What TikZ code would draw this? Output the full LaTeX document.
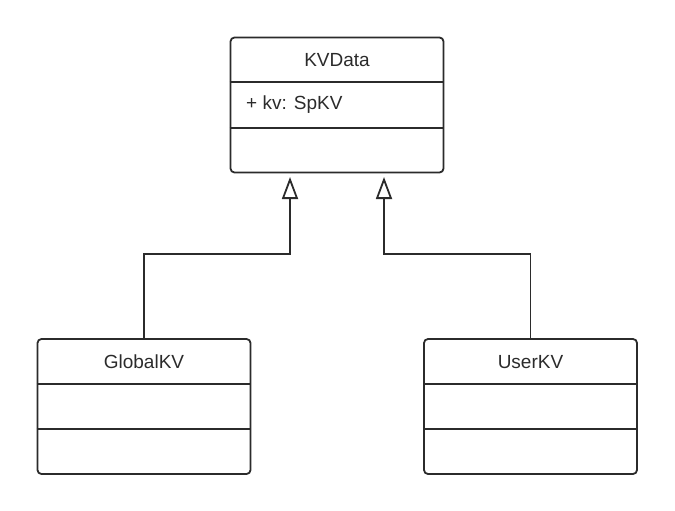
\documentclass[tikz,border=0pt]{standalone}
\usepackage{fontspec}
\setmainfont{Liberation Sans}
\usetikzlibrary{arrows.meta}
\definecolor{ink}{HTML}{2B2B2B}
\tikzstyle{cls} = [draw=ink, line width=1.8pt, rounded corners=4pt, rectangle,
    minimum width=213pt, minimum height=135pt, inner sep=0pt]
\tikzstyle{title} = [text=ink, font=\fontsize{19}{22}\selectfont, inner sep=0pt]
\tikzstyle{attr} = [text=ink, font=\fontsize{19}{22}\selectfont, inner sep=0pt, anchor=west]
\tikzstyle{sep} = [draw=ink, line width=1.8pt]
\tikzstyle{inherit} = [draw=ink, line width=1.8pt, -{Triangle[open, length=22pt, width=16pt, line width=1.8pt]}]

\begin{document}
\begin{tikzpicture}[x=1pt, y=-1pt]
\useasboundingbox (0,0) rectangle (675,511);

\node[cls, name=kvdata] at (337,105) {};
\node[cls, name=globalkv] at (144,406.5) {};
\node[cls, name=userkv] at (530.5,406.5) {};

% compartments
\draw[sep] (kvdata.west |- 0,82) -- (kvdata.east |- 0,82);
\draw[sep] (kvdata.west |- 0,128) -- (kvdata.east |- 0,128);
\draw[sep] (globalkv.west |- 0,384) -- (globalkv.east |- 0,384);
\draw[sep] (globalkv.west |- 0,429) -- (globalkv.east |- 0,429);
\draw[sep] (userkv.west |- 0,384) -- (userkv.east |- 0,384);
\draw[sep] (userkv.west |- 0,429) -- (userkv.east |- 0,429);

\node[title, name=kvname] at (337,60) {KVData};
\node[attr, name=kvattr] at (246,105) {+ kv: SpKV};
\node[title, name=globalname] at (144,362) {GlobalKV};
\node[title, name=username] at (530.5,362) {UserKV};

\coordinate (tipL) at (290,177);
\coordinate (tipR) at (384,177);

\draw[inherit] (globalkv.north) -- ++(0,-84) -| (tipL);
\draw[inherit] (userkv.north) -- ++(0,-84) -| (tipR);

\end{tikzpicture}
\end{document}
